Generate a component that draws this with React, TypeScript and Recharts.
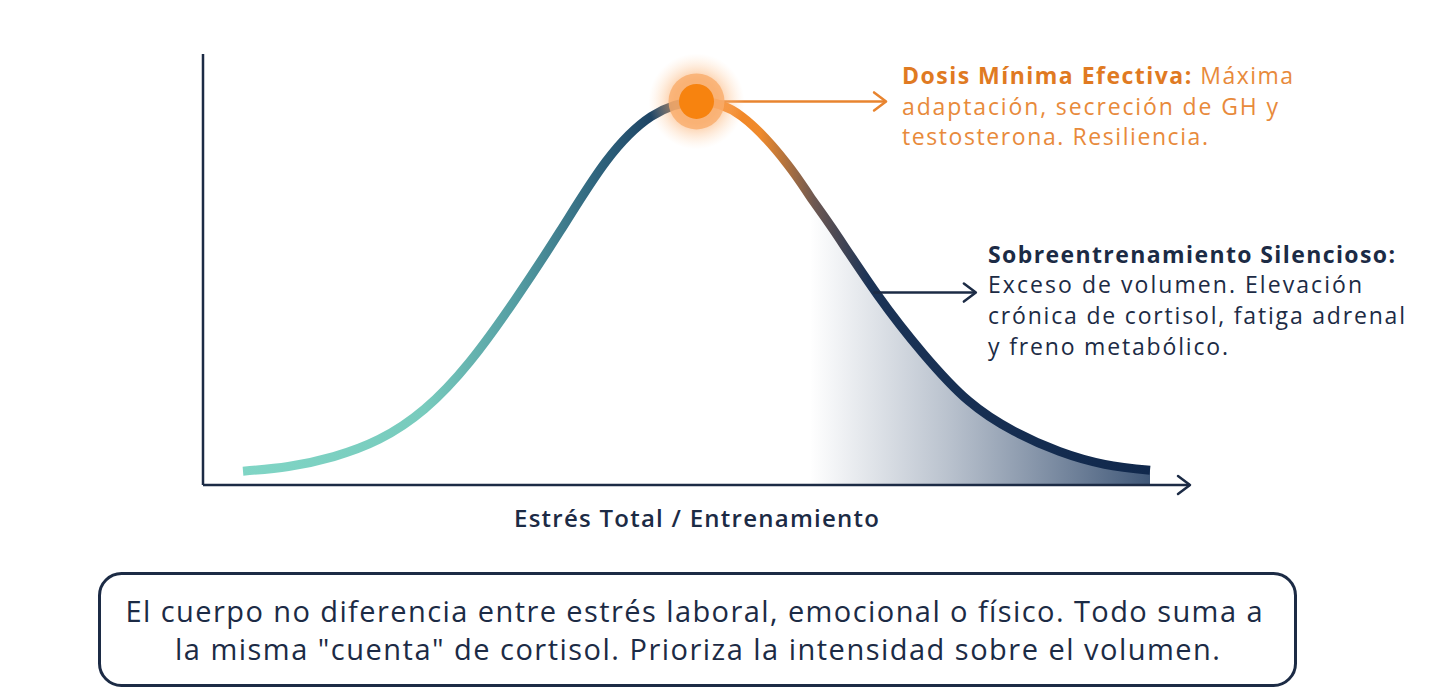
import React from 'react';
import { ComposedChart, Line, Area, XAxis, YAxis, ReferenceDot, ReferenceLine } from 'recharts';

// Stress/training load (x) and adaptation response (y)
const stressLoad = [0, 5, 10, 15, 20, 25, 30, 35, 40, 45, 50, 55, 60, 62.5, 65, 70, 75, 80, 85, 90, 95, 100];
const adaptation = [3.2, 4.3, 6.6, 10.6, 17.6, 28.6, 43, 59, 75, 85.5, 89, 85.5, 74.5, 67, 59.5, 44, 30.5, 19.5, 12.5, 7.8, 4.8, 3.4];
const overtrainingFrom = 62.5;

const peakX = 50;
const peakY = 89;
const peakArrowEnd = 70.9;
const overArrowStart = 69.5;
const overArrowEnd = 80.8;
const overArrowY = 44.65;
const axisStart = -4.41;
const axisEnd = 104.41;

const axisTitle = 'Estrés Total / Entrenamiento';
const peakTitle = 'Dosis Mínima Efectiva:';
const peakLines = [' Máxima', 'adaptación, secreción de GH y', 'testosterona. Resiliencia.'];
const overTitle = 'Sobreentrenamiento Silencioso:';
const overLines = ['Exceso de volumen. Elevación', 'crónica de cortisol, fatiga adrenal', 'y freno metabólico.'];
const footerLines = [
  'El cuerpo no diferencia entre estrés laboral, emocional o físico. Todo suma a',
  'la misma "cuenta" de cortisol. Prioriza la intensidad sobre el volumen.',
];

const data = stressLoad.map((x, i) => ({
  x,
  curve: adaptation[i],
  zone: x >= overtrainingFrom ? adaptation[i] : null,
}));

const NAVY = '#1c2b45';
const ORANGE = '#e8842f';
const FONT = '"Open Sans", "Noto Sans", sans-serif';

const Arrow = (color: string, width: number) => (props: any) => {
  const { x1, y1, x2, y2 } = props;
  return (
    <g>
      <line x1={x1} y1={y1} x2={x2} y2={y2} stroke={color} strokeWidth={width} />
      <polyline
        points={`${x2 - 12},${y2 - 9} ${x2},${y2} ${x2 - 12},${y2 + 9}`}
        fill="none"
        stroke={color}
        strokeWidth={width}
        strokeLinecap="round"
        strokeLinejoin="round"
      />
    </g>
  );
};

const AxisHead = (props: any) => {
  const { x2, y2 } = props;
  return (
    <polyline
      points={`${x2 - 12},${y2 - 9} ${x2},${y2} ${x2 - 12},${y2 + 9}`}
      fill="none"
      stroke={NAVY}
      strokeWidth={2.5}
      strokeLinecap="round"
      strokeLinejoin="round"
    />
  );
};

const AxisLine = (props: any) => {
  const { x1, y1, x2, y2 } = props;
  return <line x1={x1} y1={y1} x2={x2} y2={y2} stroke={NAVY} strokeWidth={2.5} />;
};

const PeakDot = (props: any) => {
  const { cx, cy } = props;
  return (
    <g>
      <circle cx={cx} cy={cy} r={48} fill="url(#glow)" />
      <circle cx={cx} cy={cy} r={28} fill="#f9ad6b" fillOpacity={0.8} />
      <circle cx={cx} cy={cy} r={17.5} fill="#f7830f" />
    </g>
  );
};

const AxisTitle = (props: any) => {
  const vb = props.viewBox || { x: 203, y: 485, width: 987 };
  return (
    <text
      x={vb.x + vb.width / 2}
      y={vb.y + 42}
      textAnchor="middle"
      fontFamily={FONT}
      fontSize={24}
      fontWeight={600}
      fill={NAVY}
      textLength={365}
      lengthAdjust="spacing"
    >
      {axisTitle}
    </text>
  );
};

export default function App() {
  return (
    <div style={{ position: 'absolute', left: 0, top: 0, width: 1454, height: 693, background: '#fff' }}>
      <ComposedChart
        width={1454}
        height={693}
        data={data}
        margin={{ top: 54, right: 264, bottom: 168, left: 203 }}
      >
        <defs>
          <linearGradient id="curveGrad" x1="0" y1="0" x2="1" y2="0">
            <stop offset="0" stopColor="#80d5c5" />
            <stop offset="0.2" stopColor="#78cbbd" />
            <stop offset="0.3" stopColor="#559ea3" />
            <stop offset="0.39" stopColor="#2f647d" />
            <stop offset="0.45" stopColor="#1f4565" />
            <stop offset="0.485" stopColor="#1d3d5d" />
            <stop offset="0.5" stopColor="#f7841f" />
            <stop offset="0.57" stopColor="#ef8a2c" />
            <stop offset="0.63" stopColor="#6d5852" />
            <stop offset="0.69" stopColor="#1b3356" />
            <stop offset="1" stopColor="#10284c" />
          </linearGradient>
          <linearGradient id="zoneGrad" x1="0" y1="0" x2="1" y2="0">
            <stop offset="0" stopColor="#2a4468" stopOpacity={0} />
            <stop offset="0.4" stopColor="#2a4468" stopOpacity={0.32} />
            <stop offset="1" stopColor="#1e3a60" stopOpacity={0.85} />
          </linearGradient>
          <radialGradient id="glow">
            <stop offset="0.45" stopColor="#f9a055" stopOpacity={0.6} />
            <stop offset="1" stopColor="#ffd6b0" stopOpacity={0} />
          </radialGradient>
        </defs>
        <XAxis
          dataKey="x"
          type="number"
          domain={[axisStart, axisEnd]}
          height={40}
          tick={false}
          tickLine={false}
          axisLine={{ stroke: NAVY, strokeWidth: 2.5 }}
          label={<AxisTitle />}
        />
        <YAxis type="number" domain={[0, 100]} hide />
        <Area
          dataKey="zone"
          type="natural"
          stroke="none"
          fill="url(#zoneGrad)"
          fillOpacity={1}
          isAnimationActive={false}
          dot={false}
          activeDot={false}
        />
        <Line
          dataKey="curve"
          type="natural"
          stroke="url(#curveGrad)"
          strokeWidth={9}
          dot={false}
          activeDot={false}
          isAnimationActive={false}
        />
        <ReferenceLine
          segment={[{ x: axisStart, y: 0 }, { x: axisStart, y: 100 }]}
          ifOverflow="visible"
          shape={AxisLine}
        />
        <ReferenceLine
          segment={[{ x: peakX, y: peakY }, { x: peakArrowEnd, y: peakY }]}
          ifOverflow="visible"
          shape={Arrow(ORANGE, 2.5)}
        />
        <ReferenceLine
          segment={[{ x: overArrowStart, y: overArrowY }, { x: overArrowEnd, y: overArrowY }]}
          ifOverflow="visible"
          shape={Arrow(NAVY, 2.5)}
        />
        <ReferenceLine
          segment={[{ x: axisEnd - 1, y: 0 }, { x: axisEnd, y: 0 }]}
          ifOverflow="visible"
          shape={AxisHead}
        />
        <ReferenceDot x={peakX} y={peakY} ifOverflow="visible" shape={PeakDot} />
      </ComposedChart>
      <svg
        width={1454}
        height={693}
        style={{ position: 'absolute', left: 0, top: 0, pointerEvents: 'none' }}
      >
        <g fontFamily={FONT} fontSize={23}>
          <text x={902} y={84} textLength={391} lengthAdjust="spacing">
            <tspan fontWeight={700} fill="#e07a22">{peakTitle}</tspan>
            <tspan fill="#e88a3b">{peakLines[0]}</tspan>
          </text>
          <text x={902} y={115} fill="#e88a3b" textLength={376} lengthAdjust="spacing">{peakLines[1]}</text>
          <text x={902} y={145} fill="#e88a3b" textLength={306} lengthAdjust="spacing">{peakLines[2]}</text>

          <text x={988} y={263} fill={NAVY} fontWeight={700} textLength={407} lengthAdjust="spacing">{overTitle}</text>
          <text x={988} y={293} fill={NAVY} textLength={374} lengthAdjust="spacing">{overLines[0]}</text>
          <text x={988} y={324} fill={NAVY} textLength={417} lengthAdjust="spacing">{overLines[1]}</text>
          <text x={988} y={355} fill={NAVY} textLength={240} lengthAdjust="spacing">{overLines[2]}</text>
        </g>
        <rect x={99.5} y={573.5} width={1196} height={112} rx={22} fill="none" stroke={NAVY} strokeWidth={3} />
        <g fontFamily={FONT} fontSize={29} fill={NAVY} textAnchor="middle">
          <text x={694} y={622} textLength={1137} lengthAdjust="spacing">{footerLines[0]}</text>
          <text x={697.5} y={660} textLength={1045} lengthAdjust="spacing">{footerLines[1]}</text>
        </g>
      </svg>
    </div>
  );
}
